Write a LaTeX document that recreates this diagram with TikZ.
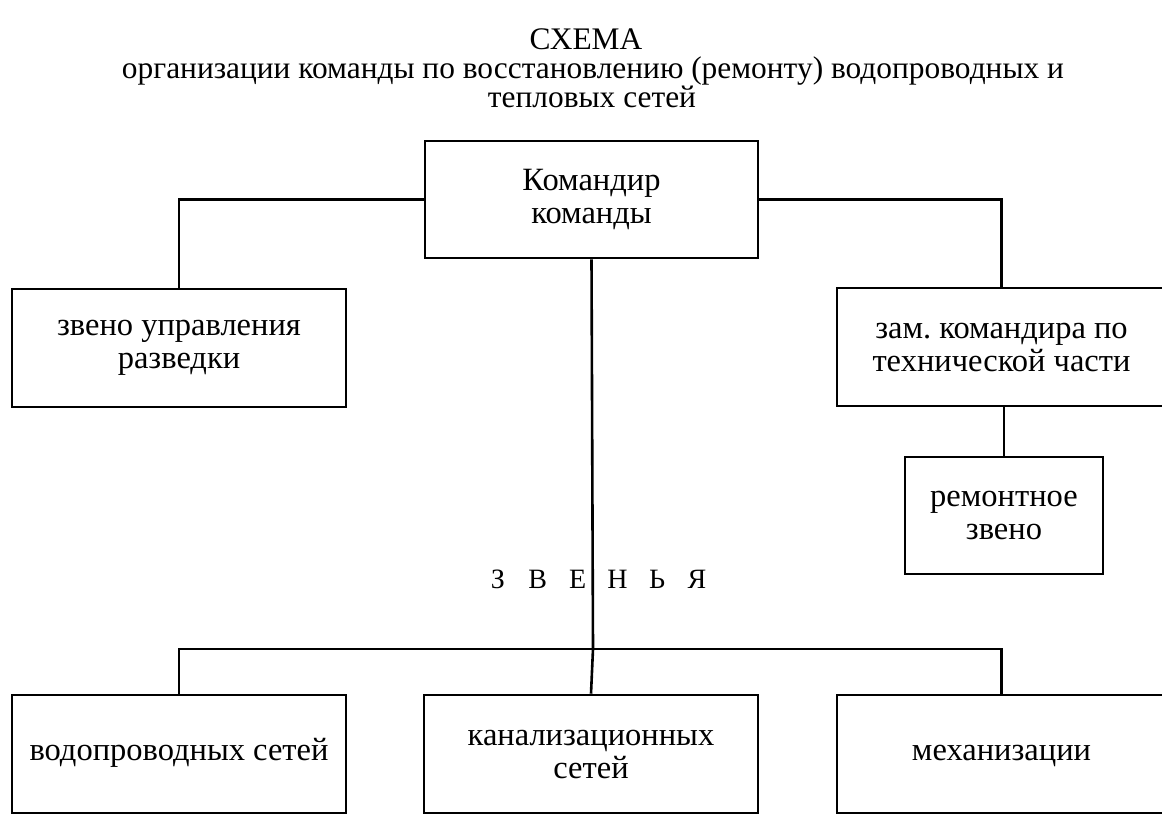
\documentclass[tikz,border=0pt]{standalone}
\usepackage{fontspec}
\setmainfont{Liberation Serif}
\frenchspacing
\begin{document}
\begin{tikzpicture}[x=1pt,y=-1pt,
  box/.style={draw,line width=2.6pt,rectangle,inner sep=0pt,align=center,
    font=\fontsize{32.5}{33}\selectfont},
  conn/.style={line width=2.6pt},
  lbl/.style={inner sep=0pt,anchor=base,font=\fontsize{31.4}{29}\selectfont}]
\useasboundingbox (0,0) rectangle (1162,814);
\fill[white] (0,0) rectangle (1162,814);
\node[lbl] (title1) at (586,49) {СХЕМА};
\node[lbl] (title2) at (593,78) {организации команды по восстановлению (ремонту) водопроводных и};
\node[lbl] (title3) at (592,107) {тепловых сетей};
\node[box,minimum width=333pt,minimum height=117pt] (cmd) at (591.5,199.5) {Командир\\команды};
\node[box,minimum width=334pt,minimum height=118pt] (razv) at (179,348) {звено управления\\разведки};
\node[box,minimum width=329pt,minimum height=118pt] (zam) at (1001.5,347) {зам.\ командира по\\технической части};
\node[box,minimum width=198pt,minimum height=117pt] (rem) at (1004,515.5) {ремонтное\\звено};
\node[box,minimum width=334pt,minimum height=118pt] (vod) at (179,754) {\strut водопроводных сетей};
\node[box,minimum width=334pt,minimum height=118pt] (kan) at (591,754) {канализационных\\сетей};
\node[box,minimum width=329pt,minimum height=118pt] (mex) at (1001.5,754) {\strut механизации};
\node[lbl,font=\fontsize{28}{30}\selectfont] (zv) at (597.5,588)
  {\makebox[39.8pt]{З}\makebox[39.8pt]{В}\makebox[39.8pt]{Е}\makebox[39.8pt]{Н}\makebox[39.8pt]{Ь}\makebox[39.8pt]{Я}};
\coordinate (bus) at (593,649);
\draw[conn] (cmd.west) -| (razv.north);
\draw[conn] (cmd.east) -| (zam.north);
\draw[conn] (rem.north) -- (rem.north |- zam.south);
\draw[conn] (cmd.south) -- (bus) -- (kan.north);
\draw[conn] (vod.north) |- (bus) -| (mex.north);
\end{tikzpicture}
\end{document}
